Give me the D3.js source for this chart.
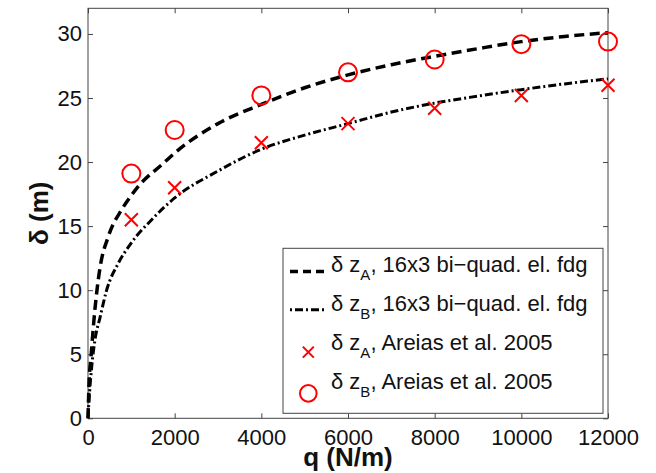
<!DOCTYPE html>
<html lang="en">
<head>
<meta charset="utf-8">
<title>delta vs q</title>
<script src="https://cdn.jsdelivr.net/npm/d3@7"></script>
<style>
  body { margin: 0; background: #fff; }
  text { font-family: "Liberation Sans", Arial, sans-serif; fill: #111; }
</style>
</head>
<body>
<script>
// dashed curve (upper)
var qA = [0, 25, 70, 125, 200, 280, 470, 780, 1000, 1160, 1740, 2000, 3000, 4000, 5000, 6000, 7000, 8000, 9000, 10000, 11000, 12000];
var dA = [0, 2.8, 4.8, 7.2, 9.8, 11.8, 14.2, 16.3, 17.4, 18.1, 19.9, 20.7, 23.0, 24.5, 25.8, 26.8, 27.6, 28.25, 28.85, 29.4, 29.8, 30.1];
// dash-dot curve (lower)
var qB = [0, 20, 85, 160, 280, 430, 700, 1000, 1470, 2000, 3000, 4000, 5000, 6000, 7000, 8000, 9000, 10000, 11000, 12000];
var dB = [0, 1.2, 4.0, 6.1, 7.9, 10.0, 12.1, 13.7, 15.5, 17.2, 19.3, 21.0, 22.1, 23.0, 23.9, 24.6, 25.15, 25.65, 26.1, 26.5];
// reference points
var qRef = [1000, 2000, 4000, 6000, 8000, 10000, 12000];
var crossVals = [15.5, 18, 21.5, 23, 24.2, 25.2, 26];
var circleVals = [19.1, 22.5, 25.2, 27, 28, 29.2, 29.4];

var xTicks = [0, 2000, 4000, 6000, 8000, 10000, 12000];
var yTicks = [0, 5, 10, 15, 20, 25, 30];
var legendLabels = [
  ["A", ", 16x3 bi\u2212quad. el. fdg"],
  ["B", ", 16x3 bi\u2212quad. el. fdg"],
  ["A", ", Areias et al. 2005"],
  ["B", ", Areias et al. 2005"]
];

var w = 656, h = 473;
var padL = 88, padR = 608, padT = 8.3, padB = 418.3;

var svg = d3.select("body").append("svg")
  .attr("width", w).attr("height", h);

var x = d3.scaleLinear().domain([0, 12000]).range([padL, padR]);
var y = d3.scaleLinear().domain([0, 32]).range([padB, padT]);

var axisColor = "#444";

// box
svg.append("rect")
  .attr("x", padL).attr("y", padT)
  .attr("width", padR - padL).attr("height", padB - padT)
  .attr("fill", "none").attr("stroke", axisColor).attr("stroke-width", 1);

function styleAxis(g) {
  g.select(".domain").remove();
  g.selectAll(".tick line").attr("stroke", axisColor);
  g.selectAll(".tick text").attr("font-size", "22px").attr("fill", "#111")
    .attr("font-family", "Liberation Sans, Arial, sans-serif");
}

svg.append("g").attr("transform", "translate(0," + padB + ")")
  .call(d3.axisBottom(x).tickValues(xTicks).tickFormat(d3.format("d")).tickSizeInner(-5).tickSizeOuter(0).tickPadding(11))
  .call(styleAxis);
svg.append("g").attr("transform", "translate(0," + padT + ")")
  .call(d3.axisTop(x).tickValues(xTicks).tickFormat("").tickSizeInner(-5).tickSizeOuter(0))
  .call(styleAxis);
svg.append("g").attr("transform", "translate(" + padL + ",0)")
  .call(d3.axisLeft(y).tickValues(yTicks).tickSizeInner(-5).tickSizeOuter(0).tickPadding(6))
  .call(styleAxis);
svg.append("g").attr("transform", "translate(" + padR + ",0)")
  .call(d3.axisRight(y).tickValues(yTicks).tickFormat("").tickSizeInner(-5).tickSizeOuter(0))
  .call(styleAxis);

// curves
var line = d3.line().curve(d3.curveMonotoneX)
  .x(function(d) { return x(d[0]); })
  .y(function(d) { return y(d[1]); });

var dashA = "10,5.5", dashB = "8,3,2,3";

svg.append("path")
  .attr("d", line(d3.zip(qA, dA)))
  .attr("fill", "none").attr("stroke", "#000").attr("stroke-width", 3.5)
  .attr("stroke-dasharray", dashA);
svg.append("path")
  .attr("d", line(d3.zip(qB, dB)))
  .attr("fill", "none").attr("stroke", "#000").attr("stroke-width", 3)
  .attr("stroke-dasharray", dashB);

// markers
function cross(g, cx, cy, s) {
  g.append("path")
    .attr("d", "M" + (cx - s) + "," + (cy - s) + "L" + (cx + s) + "," + (cy + s) +
               "M" + (cx - s) + "," + (cy + s) + "L" + (cx + s) + "," + (cy - s))
    .attr("stroke", "#f00").attr("stroke-width", 2).attr("fill", "none");
}

var marks = svg.append("g");
qRef.forEach(function(q, i) {
  cross(marks, x(q), y(crossVals[i]), 6.5);
  marks.append("circle")
    .attr("cx", x(q)).attr("cy", y(circleVals[i])).attr("r", 9)
    .attr("fill", "none").attr("stroke", "#f00").attr("stroke-width", 2);
});

// legend
var lg = svg.append("g");
lg.append("rect")
  .attr("x", 283).attr("y", 248.3).attr("width", 320).attr("height", 165)
  .attr("fill", "#fff").attr("stroke", axisColor).attr("stroke-width", 1);

legendLabels.forEach(function(lab, i) {
  var by = 271.5 + i * 39.3;
  if (i === 0) {
    lg.append("line").attr("x1", 290).attr("x2", 326).attr("y1", by).attr("y2", by)
      .attr("stroke", "#000").attr("stroke-width", 3.5).attr("stroke-dasharray", "8,5");
  } else if (i === 1) {
    lg.append("line").attr("x1", 290).attr("x2", 326).attr("y1", by - 1).attr("y2", by - 1)
      .attr("stroke", "#000").attr("stroke-width", 3).attr("stroke-dasharray", "2,3,8,3");
  } else if (i === 2) {
    cross(lg, 308.3, by + 2, 5.5);
  } else {
    lg.append("circle").attr("cx", 308.3).attr("cy", by + 4).attr("r", 8.3)
      .attr("fill", "none").attr("stroke", "#f00").attr("stroke-width", 2);
  }
  var t = lg.append("text").attr("x", 331).attr("y", by).attr("font-size", "22px");
  t.append("tspan").text("\u03b4 z");
  t.append("tspan").attr("font-size", "15px").attr("dy", 8).text(lab[0]);
  t.append("tspan").attr("dy", -8).text(lab[1]);
});

// axis titles
svg.append("text")
  .attr("x", (padL + padR) / 2).attr("y", 466)
  .attr("text-anchor", "middle").attr("font-size", "26px").attr("font-weight", "bold")
  .text("q (N/m)");
svg.append("text")
  .attr("transform", "translate(48," + ((padT + padB) / 2) + ") rotate(-90)")
  .attr("text-anchor", "middle").attr("font-size", "26px").attr("font-weight", "bold")
  .text("\u03b4 (m)");
</script>
</body>
</html>
